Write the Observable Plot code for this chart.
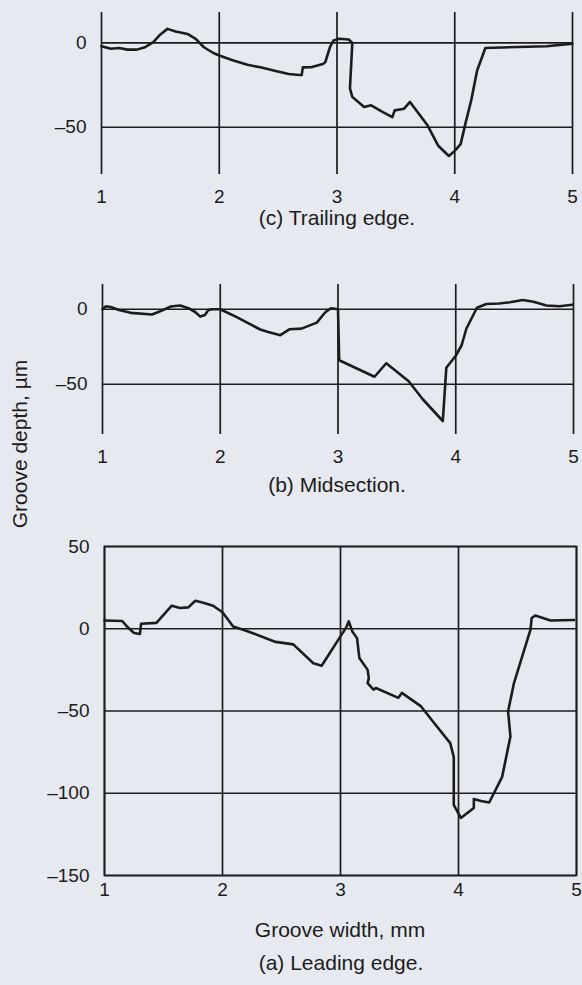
<!DOCTYPE html>
<html>
<head>
<meta charset="utf-8">
<script src="https://cdn.jsdelivr.net/npm/d3@7"></script>
<script src="https://cdn.jsdelivr.net/npm/@observablehq/plot@0.6"></script>
<style>
  html, body { margin: 0; padding: 0; background: #e6e9ef; }
  #page { position: relative; width: 582px; height: 985px; background: #e6e9ef; overflow: hidden;
          font-family: "Liberation Sans", Arial, Helvetica, sans-serif; color: #1c1c1c; }
  .panel { position: absolute; left: 0; }
  .txt { position: absolute; font-size: 21px; line-height: 21px; white-space: nowrap; transform: translateX(-50%); }
  #ylabel { position: absolute; font-size: 21px; line-height: 21px; white-space: nowrap;
            left: 19px; top: 444px; transform: translate(-50%, -50%) rotate(-90deg); }
</style>
</head>
<body>
<div id="page">
  <div class="panel" id="pc" style="top:0px"></div>
  <div class="txt" style="left:337px; top:207px">(c) Trailing edge.</div>
  <div class="panel" id="pb" style="top:270px"></div>
  <div class="txt" style="left:337px; top:474px">(b) Midsection.</div>
  <div class="panel" id="pa" style="top:530px"></div>
  <div class="txt" style="left:340px; top:919px">Groove width, mm</div>
  <div class="txt" style="left:341px; top:952px">(a) Leading edge.</div>
  <div id="ylabel">Groove depth, µm</div>
</div>
<script>
// ---- data ----
const xTicks = [1, 2, 3, 4, 5];

// (c) Trailing edge: groove width (mm)
const trailingX = [1.00,1.08,1.15,1.22,1.30,1.37,1.44,1.50,1.56,1.63,1.73,1.80,1.87,1.95,2.00,2.12,2.24,2.35,2.47,2.59,2.68,2.70,2.71,2.78,2.88,2.90,2.94,2.97,3.02,3.10,3.13,3.11,3.13,3.23,3.29,3.39,3.47,3.49,3.57,3.62,3.77,3.86,3.95,4.00,4.05,4.09,4.14,4.19,4.26,4.78,5.00];
// groove depth (µm)
const trailingY = [-2,-3.5,-3,-4,-4,-2.6,0.4,5,8.3,6.7,5.3,2.4,-2.6,-6,-7.5,-10.4,-13,-14.5,-16.5,-18.4,-19,-19,-14.5,-14.4,-12.5,-11.5,-2.6,1.4,2.4,2,0,-27,-32,-38,-37,-41,-44,-40,-39,-35,-49,-61,-67,-64,-60,-48,-34,-16.4,-3,-2,-0.5];
const trailingYTicks = [0, -50];

// (b) Midsection
const midX = [1.00,1.03,1.07,1.14,1.24,1.42,1.49,1.58,1.66,1.73,1.79,1.83,1.87,1.90,1.94,2.00,2.14,2.34,2.40,2.51,2.59,2.69,2.82,2.89,2.94,3.00,3.01,3.31,3.41,3.60,3.72,3.89,3.92,4.00,4.05,4.09,4.18,4.26,4.37,4.46,4.57,4.66,4.77,4.88,4.99];
const midY = [0,2,1.5,-0.5,-2.4,-3.5,-1.3,1.8,2.5,0.7,-2,-4.9,-3.8,-0.4,0,0,-5.3,-13.5,-15,-17.3,-13.3,-12.9,-8.9,-2.2,0.7,0,-34,-45,-36,-48,-60,-74.5,-39,-31,-24,-13,1,3.5,3.8,4.7,6.2,5,2.5,2,3];
const midYTicks = [0, -50];

// (a) Leading edge
const leadX = [1.00,1.15,1.19,1.25,1.30,1.31,1.44,1.57,1.64,1.71,1.77,1.83,1.92,2.00,2.09,2.20,2.45,2.60,2.77,2.84,3.05,3.07,3.10,3.14,3.16,3.23,3.24,3.23,3.28,3.30,3.49,3.52,3.68,3.79,3.93,3.96,3.96,4.02,4.13,4.13,4.19,4.26,4.37,4.44,4.42,4.47,4.61,4.62,4.65,4.78,4.98];
const leadY = [5,4.7,1.4,-2.6,-3.2,3,3.6,14,12.6,13,17,16,14,10,1.4,-1.2,-8,-9.5,-21,-22.5,1,4.5,-1.6,-5.7,-17.8,-25,-30,-33,-37,-36,-42,-39,-47,-57,-69.5,-78,-107,-115,-109,-103.5,-104.7,-105.6,-90,-65.5,-50.3,-33,-0.6,6.5,8,5,5.3];
const leadYTicks = [50, 0, -50, -100, -150];

// ---- drawing ----
const INK = "#1c1c1c";
const FONT = '"Liberation Sans", Arial, Helvetica, sans-serif';
const yFmt = d => (d < 0 ? "\u2013" + Math.abs(d) : String(d));

function panel({xs, ys, yTicks, yDomain, height, mt, mb, ml, mr, tickPad, frame}) {
  const data = xs.map((x, i) => ({x, y: ys[i]}));
  return Plot.plot({
    width: 582,
    height,
    marginTop: mt,
    marginBottom: mb,
    marginLeft: ml,
    marginRight: mr,
    style: {background: "transparent", color: INK, fontFamily: FONT, fontSize: "19px"},
    x: {domain: [1, 5]},
    y: {domain: yDomain},
    marks: [
      Plot.ruleY(yTicks, {stroke: INK, strokeWidth: 1.7}),
      Plot.ruleX(xTicks, {stroke: INK, strokeWidth: 1.7}),
      ...(frame ? [Plot.frame({stroke: INK, strokeWidth: 1.7})] : []),
      Plot.line(data, {x: "x", y: "y", stroke: INK, strokeWidth: 2.6, strokeLinejoin: "round"}),
      Plot.axisX({ticks: xTicks, tickSize: 0, tickPadding: tickPad, label: null, fontSize: 19, tickFormat: d3.format("d")}),
      Plot.axisY({ticks: yTicks, tickSize: 0, tickPadding: 15, label: null, fontSize: 19, tickFormat: yFmt})
    ]
  });
}

document.getElementById("pc").appendChild(panel({
  xs: trailingX, ys: trailingY, yTicks: trailingYTicks, yDomain: [-78, 18],
  height: 210, mt: 12, mb: 36, ml: 101, mr: 10, tickPad: 15, frame: false
}));
document.getElementById("pb").appendChild(panel({
  xs: midX, ys: midY, yTicks: midYTicks, yDomain: [-83.5, 16.5],
  height: 200, mt: 14, mb: 36, ml: 102, mr: 9, tickPad: 15, frame: false
}));
document.getElementById("pa").appendChild(panel({
  xs: leadX, ys: leadY, yTicks: leadYTicks, yDomain: [-150, 50],
  height: 370, mt: 16, mb: 25, ml: 104, mr: 6, tickPad: 7, frame: true
}));
</script>
</body>
</html>
